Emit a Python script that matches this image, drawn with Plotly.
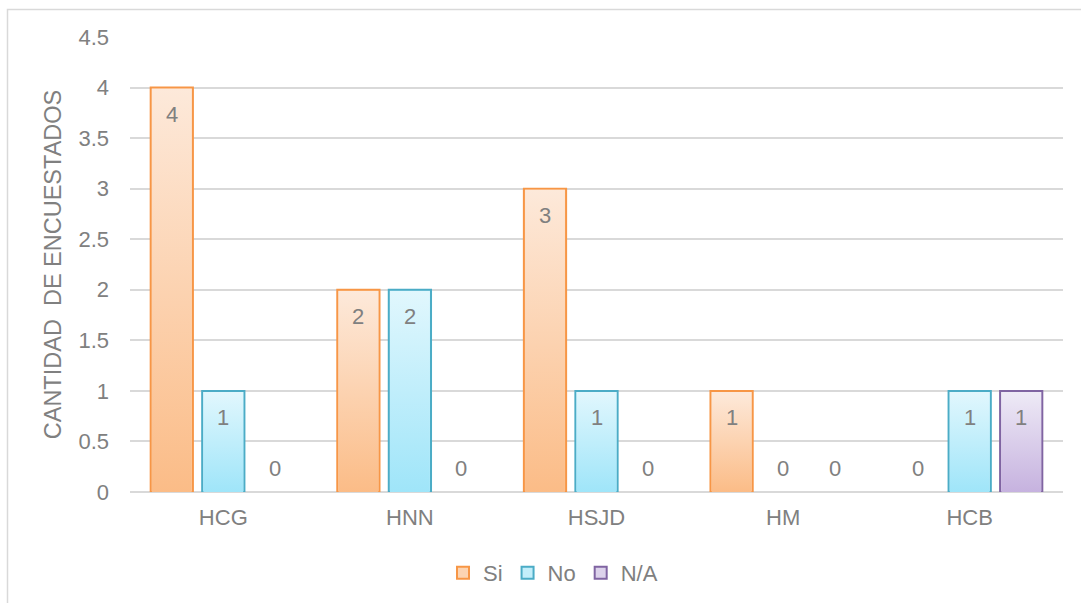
import plotly.graph_objects as go

# Survey counts per hospital
hospitals = ["HCG", "HNN", "HSJD", "HM", "HCB"]
si = [4, 2, 3, 1, 0]
no = [1, 2, 1, 0, 1]
na = [0, 0, 0, 0, 1]
series_names = ["Si", "No", "N/A"]
y_ticks = [0, 0.5, 1, 1.5, 2, 2.5, 3, 3.5, 4, 4.5]

W, H = 1081, 603
ML, MR, MT, MB = 130, 18, 37, 111
PW, PH = W - ML - MR, H - MT - MB
Y_MAX = 4.5

FONT = "Liberation Sans, Arial, sans-serif"
GRAY = "#808080"

fills = ["#FCD4B2", "#C3EEFA", "#DCD2EB"]
lines = ["#F79646", "#4BACC6", "#8064A2"]
# bottom -> top shading of each bar
shades = [("#FBBC87", "#FDE9DA"), ("#9FE5F9", "#E1F7FD"), ("#C6B2DF", "#EEEAF6")]

BARGAP = 0.172
GROUPGAP = 0.18
values = [si, no, na]
n_cat, n_ser = len(hospitals), len(series_names)

fig = go.Figure()

# gradient shading drawn on a hidden numeric x axis aligned with the category axis
slot = (1 - BARGAP) / n_ser
half = slot * (1 - GROUPGAP) / 2
px_x_unit = n_cat / PW
px_y_unit = Y_MAX / PH
for i, vals in enumerate(values):
    lo, hi = shades[i]
    for j, v in enumerate(vals):
        if v <= 0:
            continue
        c = j + (i - 1) * slot
        x0, x1 = c - half + 1.2 * px_x_unit, c + half - 1.2 * px_x_unit
        y1 = v - 1.2 * px_y_unit
        fig.add_trace(go.Scatter(
            x=[x0, x1, x1, x0, x0], y=[0, 0, y1, y1, 0],
            xaxis="x2", yaxis="y", mode="lines", fill="toself",
            line=dict(width=0, color=hi),
            fillgradient=dict(type="vertical", colorscale=[[0, lo], [1, hi]],
                              start=0, stop=y1),
            showlegend=False, hoverinfo="skip",
        ))

# bar outlines; empty (zero) bars are left undrawn
for name, vals, fc, lc in zip(series_names, values, fills, lines):
    fig.add_trace(go.Bar(
        name=name, x=hospitals, y=[v if v > 0 else None for v in vals],
        marker=dict(color=fc, line=dict(color=lc, width=2)),
        hoverinfo="skip",
    ))

# value labels: inside near the top for filled bars, just above the axis for zeros
slot_px = PW / n_cat * slot
annotations = []
for i, vals in enumerate(values):
    for cat, v in zip(hospitals, vals):
        annotations.append(dict(
            x=cat, y=v, xref="x", yref="y", text=str(v), showarrow=False,
            xshift=(i - 1) * slot_px, yshift=-27 if v > 0 else 24,
            font=dict(family=FONT, size=22, color=GRAY),
        ))

def px_x(p):
    return (p - ML) / PW

def px_y(p):
    return (H - MB - p) / PH

fig.update_layout(
    width=W, height=H,
    margin=dict(l=ML, r=MR, t=MT, b=MB, autoexpand=False),
    paper_bgcolor="white", plot_bgcolor="white",
    barmode="group", bargap=BARGAP, bargroupgap=GROUPGAP,
    font=dict(family=FONT, size=22, color=GRAY),
    showlegend=True,
    legend=dict(
        orientation="h", x=px_x(553), xanchor="center",
        y=px_y(573), yanchor="middle",
        font=dict(family=FONT, size=22, color=GRAY),
        itemwidth=30, tracegroupgap=0,
    ),
    xaxis=dict(
        type="category", showgrid=False, zeroline=False, showline=False,
        ticks="", tickfont=dict(family=FONT, size=22, color=GRAY),
        ticklabelstandoff=10,
    ),
    xaxis2=dict(
        overlaying="x", range=[-0.5, n_cat - 0.5], visible=False,
    ),
    yaxis=dict(
        range=[0, Y_MAX], tickvals=y_ticks, ticktext=[f"{t:g}" for t in y_ticks],
        showgrid=True, gridcolor="#D9D9D9", gridwidth=1.5,
        zeroline=True, zerolinecolor="#D9D9D9", zerolinewidth=1.5,
        showline=False, ticks="", ticklabelstandoff=20,
        tickfont=dict(family=FONT, size=22, color=GRAY),
        title=dict(text="CANTIDAD  DE ENCUESTADOS", standoff=10,
                   font=dict(family=FONT, size=23.5, color=GRAY)),
    ),
    annotations=annotations,
    shapes=[dict(
        type="rect", xref="paper", yref="paper",
        x0=px_x(7.5), x1=px_x(W + 10), y0=px_y(H + 10), y1=px_y(9.5),
        line=dict(color="#D9D9D9", width=1.5), fillcolor="rgba(0,0,0,0)",
        layer="below",
    )],
)

fig.write_html("out.html")
